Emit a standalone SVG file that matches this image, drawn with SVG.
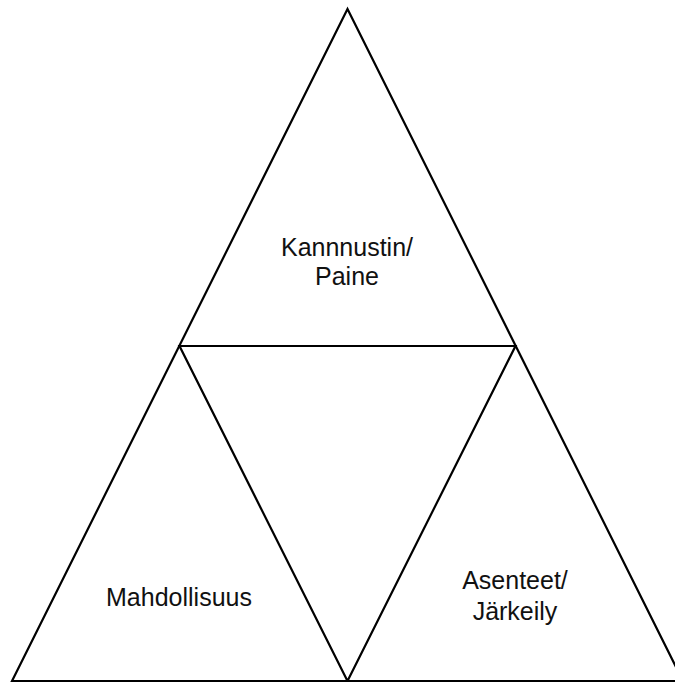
<svg xmlns="http://www.w3.org/2000/svg" width="675" height="682" viewBox="0 0 675 682">
<style>
.ln{stroke:#000;stroke-width:2.2;fill:none;stroke-linejoin:miter}
.t{font-family:"Liberation Sans",Arial,sans-serif;font-size:25px;fill:#111;text-anchor:middle}
</style>
<rect width="675" height="682" fill="#fff"/>
<g id="connectors">
<polygon class="ln" points="347.5,9 12,681 683,681"/>
<polygon class="ln" points="179.5,346 515.5,346 347.5,681"/>
</g>
<g id="top"><text class="t" x="347" y="256">Kannnustin/</text><text class="t" x="347" y="285">Paine</text></g>
<g id="left"><text class="t" x="179" y="606">Mahdollisuus</text></g>
<g id="right"><text class="t" x="515" y="589">Asenteet/</text><text class="t" x="515" y="620">Järkeily</text></g>
</svg>
